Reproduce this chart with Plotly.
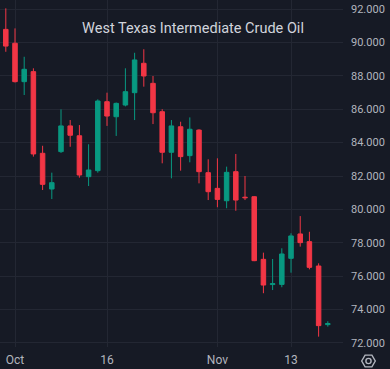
import math
import plotly.graph_objects as go

dates = ["2023-09-29",
         "2023-10-02", "2023-10-03", "2023-10-04", "2023-10-05", "2023-10-06",
         "2023-10-09", "2023-10-10", "2023-10-11", "2023-10-12", "2023-10-13",
         "2023-10-16", "2023-10-17", "2023-10-18", "2023-10-19", "2023-10-20",
         "2023-10-23", "2023-10-24", "2023-10-25", "2023-10-26", "2023-10-27",
         "2023-10-30", "2023-10-31", "2023-11-01", "2023-11-02", "2023-11-03",
         "2023-11-06", "2023-11-07", "2023-11-08", "2023-11-09", "2023-11-10",
         "2023-11-13", "2023-11-14", "2023-11-15", "2023-11-16", "2023-11-17"]

opens = [90.78, 89.95, 87.65, 88.25, 83.36, 81.22, 83.46, 85.00, 84.41, 81.96, 82.32,
         86.45, 85.55, 86.25, 86.99, 88.75, 87.55, 85.85, 83.42, 84.95, 83.22,
         84.75, 82.20, 81.26, 80.52, 82.26, 80.73, 80.76, 77.01, 75.50, 75.51,
         77.07, 78.53, 78.07, 76.61, 73.10]
highs = [92.04, 90.84, 89.14, 88.45, 83.81, 82.20, 85.99, 85.35, 85.05, 83.90, 86.59,
         86.99, 86.40, 88.45, 89.38, 89.59, 87.99, 86.00, 85.35, 85.25, 85.51,
         84.80, 83.00, 83.06, 82.56, 83.32, 82.00, 80.80, 77.41, 77.03, 77.67,
         78.57, 79.60, 78.66, 76.77, 73.30]
lows = [89.44, 87.60, 86.85, 83.16, 81.16, 80.62, 83.38, 83.75, 81.90, 81.40, 82.20,
        85.00, 84.40, 86.17, 85.35, 87.35, 85.11, 82.76, 81.86, 82.32, 82.82,
        81.56, 80.56, 80.13, 80.07, 79.92, 80.56, 76.90, 74.98, 75.17, 75.34,
        76.21, 77.77, 76.41, 72.38, 72.98]
closes = [89.78, 87.65, 88.39, 83.32, 81.50, 81.60, 85.00, 84.44, 82.06, 82.36, 86.49,
          85.59, 86.35, 87.05, 88.95, 87.99, 85.79, 83.42, 85.00, 83.16, 84.80,
          82.26, 81.06, 80.60, 82.22, 80.56, 80.70, 76.93, 75.47, 75.55, 77.33,
          78.41, 78.01, 76.53, 73.04, 73.16]

tick_dates = ["2023-10-02", "2023-10-16", "2023-11-01", "2023-11-13"]
tick_text = ["Oct", "16", "Nov", "13"]
title_text = "West Texas Intermediate Crude Oil"

UP = "#089981"
DOWN = "#f23645"
BG = "#161a25"
GRID = "#232733"
TXT = "#b2b5be"

W, H = 390, 369
ML, MR, MT, MB = 0, 47, 0, 22
PW, PH = W - ML - MR, H - MT - MB

fig = go.Figure(go.Candlestick(
    x=dates, open=opens, high=highs, low=lows, close=closes,
    increasing=dict(line=dict(color=UP, width=1), fillcolor=UP),
    decreasing=dict(line=dict(color=DOWN, width=1), fillcolor=DOWN),
    whiskerwidth=0,
    showlegend=False,
))

# settings hexagon icon (pixel -> paper)
def px2paper(px, py):
    return (px - ML) / PW, (H - MB - py) / PH

cx, cy, r = 368.5, 361, 6.8
pts = []
for k in range(6):
    a = math.radians(60 * k)
    pts.append(px2paper(cx + r * math.cos(a), cy + r * math.sin(a)))
path = "M " + " L ".join(f"{x:.5f},{y:.5f}" for x, y in pts) + " Z"
c0 = px2paper(cx - 2.6, cy - 2.6)
c1 = px2paper(cx + 2.6, cy + 2.6)

fig.update_layout(
    width=W, height=H,
    margin=dict(l=ML, r=MR, t=MT, b=MB),
    paper_bgcolor=BG, plot_bgcolor=BG,
    font=dict(family="Roboto", color=TXT, size=11),
    title=dict(text=title_text, x=193 / W, xanchor="center", y=1 - 28 / H,
               yanchor="middle", font=dict(family="Roboto", size=14.5, color="#d1d4dc")),
    xaxis=dict(type="category", range=[-0.63, 36.65], rangeslider=dict(visible=False),
               tickmode="array", tickvals=tick_dates, ticktext=tick_text,
               showgrid=True, gridcolor=GRID, gridwidth=1, zeroline=False,
               ticks="", showline=False, tickfont=dict(size=12, color=TXT),
               ticklabelstandoff=4),
    yaxis=dict(side="right", range=[71.76, 92.54], dtick=2, tick0=72, tickformat=".3f",
               showgrid=True, gridcolor=GRID, gridwidth=1, zeroline=False,
               ticks="", showline=False, tickfont=dict(size=11, color=TXT),
               ticklabelstandoff=7),
    shapes=[
        dict(type="path", path=path, xref="paper", yref="paper",
             line=dict(color=TXT, width=1.4)),
        dict(type="circle", xref="paper", yref="paper", x0=c0[0], y0=c1[1], x1=c1[0], y1=c0[1],
             line=dict(color=TXT, width=1.4)),
    ],
)

fig.write_html("out.html", config={"displayModeBar": False},
               post_script="document.body.style.margin='0';document.body.style.background='%s';" % BG)
